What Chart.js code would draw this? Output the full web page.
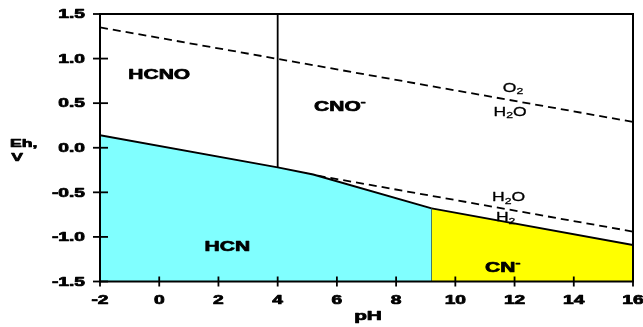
<!DOCTYPE html>
<html>
<head>
<meta charset="utf-8">
<script src="https://cdn.jsdelivr.net/npm/chart.js@4.4.1/dist/chart.umd.min.js"></script>
<style>
  html, body { margin: 0; padding: 0; background: #fff; }
</style>
</head>
<body>
<canvas id="chart" width="643" height="327"></canvas>
<script>
// axis ticks
const xTicks = [-2, 0, 2, 4, 6, 8, 10, 12, 14, 16];
const xTickLabels = ['-2', '0', '2', '4', '6', '8', '10', '12', '14', '16'];
const yTicks = [1.5, 1.0, 0.5, 0.0, -0.5, -1.0, -1.5];
const yTickLabels = ['1.5', '1.0', '0.5', '0.0', '-0.5', '-1.0', '-1.5'];

// HCN / (HCNO, CNO-) boundary
const hcnPh = [-2, 4, 5.2, 9.2];
const hcnEh = [0.14, -0.22, -0.30, -0.68];
// CN- / CNO- boundary
const cnPh = [9.2, 16];
const cnEh = [-0.68, -1.09];
// water stability lines
const o2Ph = [-2, 16];
const o2Eh = [1.35, 0.29];
const h2Ph = [-2, 16];
const h2Eh = [0.12, -0.94];
// vertical boundaries
const hcnoCnoPh = [4, 4];
const hcnoCnoEh = [1.5, -0.22];
const hcnCnPh = [9.2, 9.2];
const hcnCnEh = [-0.68, -1.5];

// species labels (parts: [text, 0 normal / 1 subscript / -1 superscript])
const speciesLabels = [
    [['HCNO', 0]],
    [['CNO', 0], ['-', -1]],
    [['HCN', 0]],
    [['CN', 0], ['-', -1]]
];
const speciesPh = [0.0, 6.1, 2.3, 11.6];
const speciesEh = [0.81, 0.46, -1.12, -1.35];

const waterLabels = [
    [['O', 0], ['2', 1]],
    [['H', 0], ['2', 1], ['O', 0]],
    [['H', 0], ['2', 1], ['O', 0]],
    [['H', 0], ['2', 1]]
];
const waterPh = [11.95, 11.85, 11.8, 11.7];
const waterEh = [0.67, 0.40, -0.56, -0.78];

function toPoints(xs, ys) {
    return xs.map((x, i) => ({ x: x, y: ys[i] }));
}

const FONT = '"Liberation Sans", Arial, sans-serif';

// draw text with horizontal stretch; bold text gets a thin outline to look heavier
function drawRich(ctx, parts, x, y, size, weight, stretch, align) {
    ctx.save();
    ctx.translate(x, y);
    ctx.scale(stretch, 1);
    ctx.textBaseline = 'middle';
    ctx.textAlign = 'left';
    ctx.lineWidth = weight === 'bold' ? 0.7 : 0.3;
    ctx.lineJoin = 'round';
    let total = 0;
    parts.forEach(p => {
        const s = p[1] === 0 ? size : size * 0.7;
        ctx.font = weight + ' ' + s + 'px ' + FONT;
        total += ctx.measureText(p[0]).width;
    });
    let cx = align === 'right' ? -total : (align === 'left' ? 0 : -total / 2);
    parts.forEach(p => {
        const s = p[1] === 0 ? size : size * 0.7;
        ctx.font = weight + ' ' + s + 'px ' + FONT;
        const dy = p[1] === 1 ? size * 0.3 : (p[1] === -1 ? -size * 0.35 : 0);
        ctx.fillText(p[0], cx, dy);
        ctx.strokeText(p[0], cx, dy);
        cx += ctx.measureText(p[0]).width;
    });
    ctx.restore();
}

const diagramPlugin = {
    id: 'diagram',
    afterDatasetsDraw(chart) {
        const ctx = chart.ctx;
        const area = chart.chartArea;
        const xs = chart.scales.x;
        const ys = chart.scales.y;
        ctx.save();
        ctx.fillStyle = '#000';
        ctx.strokeStyle = '#000';

        // frame
        ctx.lineWidth = 2;
        ctx.strokeRect(area.left, area.top, area.right - area.left, area.bottom - area.top);

        // tick marks crossing the axes
        ctx.lineWidth = 1.8;
        yTicks.forEach(v => {
            const py = ys.getPixelForValue(v);
            ctx.beginPath();
            ctx.moveTo(area.left - 7, py);
            ctx.lineTo(area.left + 8, py);
            ctx.stroke();
        });
        xTicks.forEach(v => {
            const px = xs.getPixelForValue(v);
            ctx.beginPath();
            ctx.moveTo(px, area.bottom - 5);
            ctx.lineTo(px, area.bottom + 5);
            ctx.stroke();
        });

        // tick labels
        yTicks.forEach((v, i) => {
            drawRich(ctx, [[yTickLabels[i], 0]], area.left - 15, ys.getPixelForValue(v) + 1, 12, 'bold', 1.6, 'right');
        });
        xTicks.forEach((v, i) => {
            drawRich(ctx, [[xTickLabels[i], 0]], xs.getPixelForValue(v), area.bottom + 19, 12, 'bold', 1.6, 'center');
        });

        // axis titles
        drawRich(ctx, [['Eh,', 0]], 10, 144, 11, 'bold', 1.6, 'left');
        drawRich(ctx, [['V', 0]], 17, 158, 11, 'bold', 1.6, 'center');
        drawRich(ctx, [['pH', 0]], 368, 316, 13, 'bold', 1.6, 'center');

        // species and water labels
        speciesLabels.forEach((parts, i) => {
            drawRich(ctx, parts, xs.getPixelForValue(speciesPh[i]), ys.getPixelForValue(speciesEh[i]), 14, 'bold', 1.5, 'center');
        });
        waterLabels.forEach((parts, i) => {
            drawRich(ctx, parts, xs.getPixelForValue(waterPh[i]), ys.getPixelForValue(waterEh[i]), 13, 'normal', 1.35, 'center');
        });
        ctx.restore();
    }
};

const lineBase = {
    pointRadius: 0,
    tension: 0,
    borderColor: '#000'
};

new Chart(document.getElementById('chart').getContext('2d'), {
    type: 'line',
    data: {
        datasets: [
            Object.assign({}, lineBase, {
                label: 'HCN',
                data: toPoints(hcnPh, hcnEh),
                fill: 'start',
                backgroundColor: '#80ffff',
                borderWidth: 2
            }),
            Object.assign({}, lineBase, {
                label: 'CN-',
                data: toPoints(cnPh, cnEh),
                fill: 'start',
                backgroundColor: '#ffff00',
                borderWidth: 2
            }),
            Object.assign({}, lineBase, {
                label: 'O2/H2O',
                data: toPoints(o2Ph, o2Eh),
                fill: false,
                borderWidth: 1.8,
                borderDash: [8, 5]
            }),
            Object.assign({}, lineBase, {
                label: 'H2O/H2',
                data: toPoints(h2Ph, h2Eh),
                fill: false,
                borderWidth: 1.8,
                borderDash: [8, 5]
            }),
            Object.assign({}, lineBase, {
                label: 'HCNO/CNO-',
                data: toPoints(hcnoCnoPh, hcnoCnoEh),
                fill: false,
                borderWidth: 1.8
            }),
            Object.assign({}, lineBase, {
                label: 'HCN/CN-',
                data: toPoints(hcnCnPh, hcnCnEh),
                fill: false,
                borderWidth: 1.8
            })
        ]
    },
    options: {
        responsive: false,
        animation: false,
        devicePixelRatio: 1,
        layout: {
            padding: { left: 0, right: 10, top: 14, bottom: 0 }
        },
        scales: {
            x: {
                type: 'linear',
                min: -2,
                max: 16,
                ticks: { display: false },
                grid: { display: false },
                border: { display: false },
                afterFit: function(scale) { scale.height = 45.5; }
            },
            y: {
                type: 'linear',
                min: -1.5,
                max: 1.5,
                ticks: { display: false },
                grid: { display: false },
                border: { display: false },
                afterFit: function(scale) { scale.width = 100; }
            }
        },
        plugins: {
            legend: { display: false },
            tooltip: { enabled: false }
        }
    },
    plugins: [diagramPlugin]
});
</script>
</body>
</html>
